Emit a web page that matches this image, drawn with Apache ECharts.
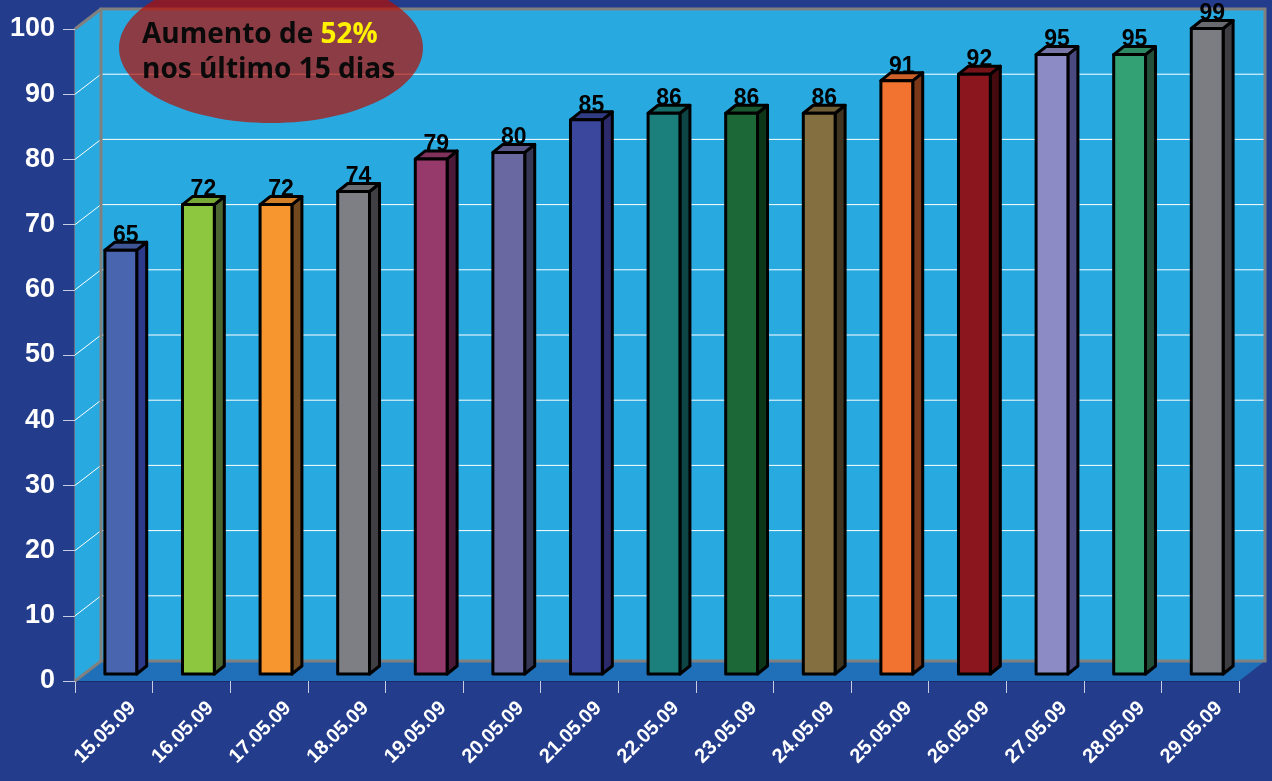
<!DOCTYPE html>
<html>
<head>
<meta charset="utf-8">
<script src="https://cdn.jsdelivr.net/npm/echarts@6/dist/echarts.min.js"></script>
<style>
html,body{margin:0;padding:0;background:#243C8C;}
#chart{width:1272px;height:781px;}
</style>
</head>
<body>
<div id="chart"></div>
<script>
// ---- data ----
const categories = ['15.05.09','16.05.09','17.05.09','18.05.09','19.05.09','20.05.09','21.05.09','22.05.09','23.05.09','24.05.09','25.05.09','26.05.09','27.05.09','28.05.09','29.05.09'];
const values = [65, 72, 72, 74, 79, 80, 85, 86, 86, 86, 91, 92, 95, 95, 99];
const yTicks = [0, 10, 20, 30, 40, 50, 60, 70, 80, 90, 100];

// ---- styles ----
const barPalette = [
  ['#4A65B0','#2D3A8A'],['#8DC63F','#4B6630'],['#F7952F','#72491E'],['#7E7F84','#404044'],
  ['#963A6C','#4A1A38'],['#6A68A0','#363655'],['#3B479C','#2C2A6A'],['#1B807C','#0D4545'],
  ['#1C6937','#0D3518'],['#846F40','#403520'],['#F27230','#7A3818'],['#8B161D','#450A0E'],
  ['#8D8BC5','#4A4A80'],['#34A175','#234F38'],['#7C7D82','#3E3E42']
];
const WALL = '#28AAE1', FLOOR = '#1F70B8', BORDER = '#808080';
const DX = 26, DY = -20;          // depth of the plot box
const BDX = 10, BDY = -8;         // depth of each bar
const OX = 7, OY = -7;            // bar front plane offset

function shade(hex, f){
  const n = parseInt(hex.slice(1),16);
  const r = Math.round(((n>>16)&255)*f), g = Math.round(((n>>8)&255)*f), b = Math.round((n&255)*f);
  return 'rgb('+r+','+g+','+b+')';
}

const chart = echarts.init(document.getElementById('chart'));

function renderWall(params, api){
  const cs = params.coordSys;
  const L = cs.x, R = cs.x + cs.width, T = cs.y, B = cs.y + cs.height;
  const ch = [];
  ch.push({type:'rect', shape:{x:L+DX, y:T+DY, width:cs.width, height:cs.height}, style:{fill:WALL, stroke:'none'}});
  ch.push({type:'polygon', shape:{points:[[L,T],[L+DX,T+DY],[L+DX,B+DY],[L,B]]}, style:{fill:WALL, stroke:'none'}});
  yTicks.forEach(function(v){
    if (v === 0 || v === 100) return;
    const y = api.coord([0, v])[1];
    ch.push({type:'line', shape:{x1:L+DX, y1:y+DY, x2:R+DX, y2:y+DY}, style:{fill:'none', stroke:'#ffffff', lineWidth:1}});
    ch.push({type:'line', shape:{x1:L, y1:y, x2:L+DX, y2:y+DY}, style:{fill:'none', stroke:'#ffffff', lineWidth:1}});
  });
  ch.push({type:'polygon', shape:{points:[[L,B],[R,B],[R+DX,B+DY],[L+DX,B+DY]]}, style:{fill:FLOOR, stroke:'none'}});
  const bs = {fill:'none', stroke:BORDER, lineWidth:3};
  ch.push({type:'polyline', shape:{points:[[L+DX,B+DY],[L+DX,T+DY],[R+DX,T+DY],[R+DX,B+DY],[L+DX,B+DY]]}, style:bs});
  ch.push({type:'line', shape:{x1:L, y1:T, x2:L+DX, y2:T+DY}, style:bs});
  ch.push({type:'line', shape:{x1:L, y1:B, x2:L+DX, y2:B+DY}, style:bs});
  return {type:'group', children:ch};
}

function renderBar(params, api){
  const i = api.value(0), v = api.value(1);
  const top = api.coord([i, v]);
  const base = api.coord([i, 0]);
  const bw = api.size([1, 0])[0] * 0.41;
  const x0 = top[0] - bw/2 + OX, x1 = x0 + bw;
  const yT = top[1] + OY, yB = base[1] + OY;
  const c = barPalette[params.dataIndex % barPalette.length];
  const st = {stroke:'#000', lineWidth:3, lineJoin:'round'};
  return {type:'group', children:[
    {type:'polygon', shape:{points:[[x1,yT],[x1+BDX,yT+BDY],[x1+BDX,yB+BDY],[x1,yB]]}, style:Object.assign({fill:c[1]}, st)},
    {type:'polygon', shape:{points:[[x0,yT],[x1,yT],[x1+BDX,yT+BDY],[x0+BDX,yT+BDY]]}, style:Object.assign({fill:shade(c[0],0.85)}, st)},
    {type:'rect', shape:{x:x0, y:yT, width:bw, height:yB-yT}, style:Object.assign({fill:c[0]}, st)},
    {type:'text', style:{text:String(v), x:(x0+x1)/2 + BDX/2, y:yT+BDY+5, textAlign:'center', textVerticalAlign:'bottom',
      fill:'#000', stroke:'none', font:'bold 23px "Liberation Sans", Arial, sans-serif'}}
  ]};
}

const option = {
  backgroundColor:'#243C8C',
  animation:false,
  grid:[
    {left:75, right:33, top:29, bottom:100},
    {left:94, right:14, top:29, bottom:100}
  ],
  xAxis:[
    {type:'category', gridIndex:0, data:categories,
      axisLine:{show:true, lineStyle:{color:'#1A2A6A', width:1}},
      axisTick:{show:true, length:12, interval:0, lineStyle:{color:'#C8CCE0', width:1}},
      axisLabel:{show:false}, splitLine:{show:false}},
    {type:'category', gridIndex:1, data:categories,
      axisLine:{show:false}, axisTick:{show:false}, splitLine:{show:false},
      axisLabel:{show:true, interval:0, rotate:45, margin:24, color:'#ffffff',
        fontWeight:'bold', fontSize:20, fontFamily:'"Liberation Sans", Arial, sans-serif'}}
  ],
  yAxis:[
    {type:'value', gridIndex:0, min:0, max:100, interval:10,
      axisLine:{show:true, lineStyle:{color:'#6B6B80', width:2}},
      axisTick:{show:true, length:12, lineStyle:{color:'#C8CCE0', width:1}},
      axisLabel:{show:true, margin:20, color:'#ffffff', fontWeight:'bold', fontSize:27,
        fontFamily:'"Liberation Sans", Arial, sans-serif'},
      splitLine:{show:false}},
    {type:'value', gridIndex:1, min:0, max:100, interval:10, show:false}
  ],
  series:[
    {type:'custom', xAxisIndex:0, yAxisIndex:0, z:1, silent:true,
      renderItem:renderWall, data:[[0,0]], clip:false},
    {type:'custom', xAxisIndex:0, yAxisIndex:0, z:3,
      renderItem:renderBar, clip:false,
      data:values.map(function(v,i){return [i, v];})}
  ],
  graphic:[
    {type:'ellipse', z:100, shape:{cx:271, cy:48, rx:152, ry:75}, style:{fill:'rgba(183,13,1,0.7)'}},
    {type:'text', z:101, style:{
      x:142, y:18, textVerticalAlign:'top',
      text:'{a|Aumento de }{b|52%}\n{a|nos último 15 dias}',
      rich:{
        a:{fill:'#0A0A0A', font:'bold 28px "Open Sans", sans-serif', lineHeight:35},
        b:{fill:'#FFF200', font:'bold 28px "Open Sans", sans-serif', lineHeight:35}
      }
    }}
  ]
};
chart.setOption(option);
</script>
</body>
</html>
